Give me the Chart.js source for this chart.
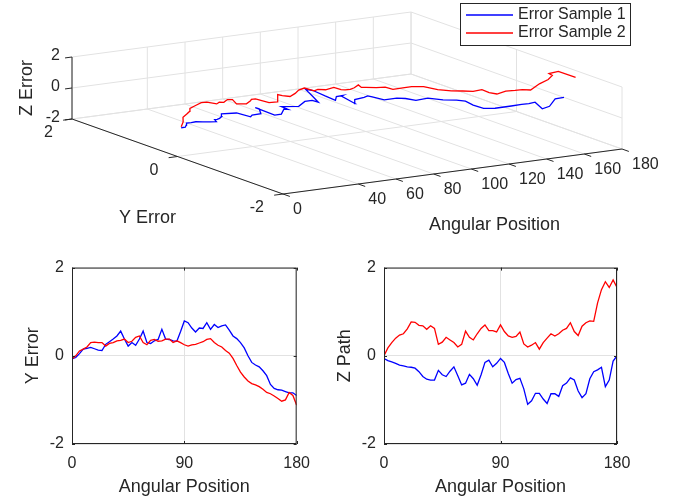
<!DOCTYPE html>
<html>
<head>
<meta charset="utf-8">
<script src="https://cdn.jsdelivr.net/npm/chart.js@4.4.1/dist/chart.umd.min.js"></script>
<style>
    html, body { margin: 0; padding: 0; background: #fff; }
    body { width: 679px; height: 501px; position: relative; overflow: hidden; }
    .box { position: absolute; }
    #top { left: 0; top: 0; width: 679px; height: 250px; }
    #left { left: 0; top: 250px; width: 320px; height: 251px; }
    #right { left: 312px; top: 250px; width: 367px; height: 251px; }
</style>
</head>
<body>
<div class="box" id="top"><canvas id="c3d"></canvas></div>
<div class="box" id="left"><canvas id="cY"></canvas></div>
<div class="box" id="right"><canvas id="cZ"></canvas></div>

<script>
// ===== Data =====
const seriesNames = ["Error Sample 1", "Error Sample 2"];
const seriesColors = ["#0000ff", "#ff0000"];

const angles = [0, 3, 6, 9, 12, 15, 18, 21, 24, 27, 30, 33, 36, 39, 42, 45, 48, 51, 54, 57,
    60, 63, 66, 69, 72, 75, 78, 81, 84, 87, 90, 93, 96, 99, 102, 105, 108, 111, 114, 117,
    120, 123, 126, 129, 132, 135, 138, 141, 144, 147, 150, 153, 156, 159, 162, 165, 168, 171, 174, 177, 180];

const yErr1 = [-0.07, -0.04, 0.05, 0.15, 0.17, 0.19, 0.16, 0.13, 0.12, 0.26, 0.32, 0.38, 0.45, 0.56, 0.38, 0.22, 0.30, 0.24, 0.38, 0.56,
    0.30, 0.28, 0.34, 0.37, 0.60, 0.38, 0.37, 0.34, 0.33, 0.55, 0.79, 0.75, 0.63, 0.54, 0.63, 0.62, 0.75, 0.60, 0.71, 0.64,
    0.68, 0.70, 0.58, 0.45, 0.39, 0.30, 0.18, 0.00, -0.15, -0.21, -0.25, -0.34, -0.45, -0.65, -0.74, -0.77, -0.78, -0.81, -0.84, -0.84, -0.90];

const yErr2 = [-0.07, 0.00, 0.11, 0.15, 0.20, 0.30, 0.31, 0.30, 0.30, 0.22, 0.28, 0.30, 0.34, 0.35, 0.38, 0.30, 0.33, 0.42, 0.45, 0.30,
    0.25, 0.35, 0.37, 0.33, 0.34, 0.38, 0.38, 0.30, 0.34, 0.30, 0.25, 0.22, 0.25, 0.26, 0.29, 0.32, 0.37, 0.39, 0.30, 0.24,
    0.20, 0.12, 0.06, -0.06, -0.22, -0.37, -0.48, -0.57, -0.63, -0.66, -0.70, -0.76, -0.83, -0.86, -0.91, -0.97, -1.03, -1.00, -0.83, -0.90, -1.12];

const zPath1 = [-0.06, -0.11, -0.14, -0.17, -0.21, -0.23, -0.25, -0.26, -0.28, -0.36, -0.47, -0.53, -0.55, -0.55, -0.33, -0.43, -0.47, -0.35, -0.25, -0.45,
    -0.66, -0.62, -0.42, -0.52, -0.67, -0.43, -0.15, -0.10, -0.25, -0.17, -0.06, -0.15, -0.40, -0.62, -0.54, -0.51, -0.75, -1.10, -1.02, -0.85,
    -0.85, -0.98, -1.08, -0.86, -0.86, -0.92, -0.68, -0.62, -0.50, -0.55, -0.80, -0.95, -0.86, -0.52, -0.36, -0.32, -0.26, -0.70, -0.55, -0.12, 0.00];

const zPath2 = [0.00, 0.18, 0.30, 0.40, 0.47, 0.50, 0.61, 0.77, 0.76, 0.69, 0.68, 0.60, 0.68, 0.62, 0.26, 0.31, 0.42, 0.36, 0.30, 0.20,
    0.26, 0.56, 0.42, 0.36, 0.50, 0.62, 0.70, 0.57, 0.57, 0.54, 0.70, 0.55, 0.45, 0.42, 0.44, 0.54, 0.27, 0.20, 0.24, 0.30,
    0.15, 0.30, 0.40, 0.50, 0.45, 0.50, 0.58, 0.62, 0.75, 0.55, 0.46, 0.67, 0.75, 0.79, 0.78, 1.20, 1.50, 1.68, 1.55, 1.72, 1.55];

// ticks
const angTicks3d = [0, 40, 60, 80, 100, 120, 140, 160, 180];
const yTicks3d = [-2, 0, 2];
const zTicks3d = [-2, 0, 2];
const angTicks2d = [0, 90, 180];
const valTicks2d = [-2, 0, 2];

const titles3d = { x: "Angular Position", y: "Y Error", z: "Z Error" };

// ===== Style =====
const FONT = '"Liberation Sans", Arial, sans-serif';
const TXT = "#262626";
const GRID = "#e2e2e2";
Chart.defaults.font.family = FONT;
Chart.defaults.color = TXT;
Chart.defaults.animation = false;

// ===== 3D view (orthographic) =====
// screen plane units of the top canvas; one unit per px
const view = {
    origin: [177.5, 125.5],     // angle 0, y 0, z 0
    ea: [339 / 180, -45 / 180], // per degree
    ey: [-52.75, -18.75],       // per unit Y error
    ez: [0, -15.5]              // per unit Z
};
const lim = { a: [0, 180], y: [-2, 2], z: [-2, 2] };

function project(a, y, z) {
    return {
        x: view.origin[0] + a * view.ea[0] + y * view.ey[0] + z * view.ez[0],
        y: view.origin[1] + a * view.ea[1] + y * view.ey[1] + z * view.ez[1]
    };
}

const box3d = {
    id: "box3d",
    beforeDatasetsDraw(chart) {
        const { ctx, scales: { x: sx, y: sy } } = chart;
        const P = (a, y, z) => {
            const p = project(a, y, z);
            return [sx.getPixelForValue(p.x), sy.getPixelForValue(p.y)];
        };
        const seg = (p, q) => { ctx.moveTo(p[0], p[1]); ctx.lineTo(q[0], q[1]); };
        const [a0, a1] = lim.a, [y0, y1] = lim.y, [z0, z1] = lim.z;

        ctx.save();
        // grid: back wall, floor, side wall
        ctx.strokeStyle = GRID;
        ctx.lineWidth = 1;
        ctx.beginPath();
        angTicks3d.forEach(a => { seg(P(a, y1, z0), P(a, y1, z1)); seg(P(a, y0, z0), P(a, y1, z0)); });
        zTicks3d.forEach(z => { seg(P(a0, y1, z), P(a1, y1, z)); seg(P(a1, y0, z), P(a1, y1, z)); });
        yTicks3d.forEach(y => { seg(P(a0, y, z0), P(a1, y, z0)); seg(P(a1, y, z0), P(a1, y, z1)); });
        ctx.stroke();

        // axes
        ctx.strokeStyle = TXT;
        ctx.beginPath();
        seg(P(a0, y1, z0), P(a0, y1, z1));
        seg(P(a0, y1, z0), P(a0, y0, z0));
        seg(P(a0, y0, z0), P(a1, y0, z0));
        angTicks3d.forEach(a => seg(P(a, y0, z0), P(a, y0 - 0.13, z0)));
        yTicks3d.forEach(y => seg(P(a0, y, z0), P(a0 - 4.7, y, z0)));
        zTicks3d.forEach(z => seg(P(a0, y1, z), P(a0 - 3.7, y1, z)));
        ctx.stroke();

        // tick labels
        ctx.fillStyle = TXT;
        ctx.font = "16px " + FONT;
        ctx.textBaseline = "middle";
        ctx.textAlign = "left";
        angTicks3d.forEach(a => { const p = P(a, y0, z0); ctx.fillText(String(a), p[0] + 10, p[1] + 16); });
        ctx.textAlign = "right";
        yTicks3d.forEach(y => { const p = P(a0, y, z0); ctx.fillText(String(y), p[0] - 19, p[1] + 14); });
        zTicks3d.forEach(z => { const p = P(a0, y1, z); ctx.fillText(String(z), p[0] - 12, p[1] - 1); });

        // axis titles
        ctx.font = "18px " + FONT;
        ctx.textAlign = "center";
        let m = P((a0 + a1) / 2, y0, z0);
        ctx.fillText(titles3d.x, m[0] + 42, m[1] + 54);
        m = P(a0, (y0 + y1) / 2, z0);
        ctx.fillText(titles3d.y, m[0] - 30, m[1] + 62);
        m = P(a0, y1, (z0 + z1) / 2);
        ctx.translate(m[0] - 45, m[1]);
        ctx.rotate(-Math.PI / 2);
        ctx.fillText(titles3d.z, 0, 0);
        ctx.restore();
    },
    afterDraw(chart) {
        // legend
        const { ctx } = chart;
        const bx = 460.5, by = 3.5, bw = 170, bh = 42;
        ctx.save();
        ctx.fillStyle = "#fff";
        ctx.fillRect(bx, by, bw, bh);
        ctx.strokeStyle = TXT;
        ctx.lineWidth = 1;
        ctx.strokeRect(bx, by, bw, bh);
        ctx.font = "16px " + FONT;
        ctx.textBaseline = "middle";
        ctx.textAlign = "left";
        chart.data.datasets.forEach((ds, i) => {
            const ly = 15 + i * 18;
            ctx.strokeStyle = ds.borderColor;
            ctx.lineWidth = 1.3;
            ctx.beginPath();
            ctx.moveTo(466, ly);
            ctx.lineTo(513, ly);
            ctx.stroke();
            ctx.fillStyle = TXT;
            ctx.fillText(ds.label, 518, ly);
        });
        ctx.restore();
    }
};

new Chart(document.getElementById("c3d"), {
    type: "scatter",
    data: {
        datasets: [
            { label: seriesNames[0], data: angles.map((a, i) => project(a, yErr1[i], zPath1[i])), order: 1 },
            { label: seriesNames[1], data: angles.map((a, i) => project(a, yErr2[i], zPath2[i])), order: 0 }
        ].map((d, i) => Object.assign(d, {
            showLine: true, borderColor: seriesColors[i], borderWidth: 1.3, pointRadius: 0, tension: 0
        }))
    },
    options: {
        responsive: true,
        maintainAspectRatio: false,
        layout: { padding: 0 },
        plugins: { legend: { display: false }, tooltip: { enabled: false } },
        scales: {
            x: { type: "linear", display: false, min: 0, max: 679 },
            y: { type: "linear", display: false, min: 0, max: 250, reverse: true }
        }
    },
    plugins: [box3d]
});

// ===== 2D plots =====
const frame = {
    id: "frame",
    afterDraw(chart) {
        const { ctx, chartArea: a, scales: { x, y } } = chart;
        ctx.save();
        ctx.strokeStyle = TXT;
        ctx.lineWidth = 1;
        ctx.strokeRect(a.left + 0.5, a.top + 0.5, a.right - a.left - 1, a.bottom - a.top - 1);
        ctx.beginPath();
        angTicks2d.forEach(v => {
            const px = Math.round(x.getPixelForValue(v)) + 0.5;
            ctx.moveTo(px, a.bottom); ctx.lineTo(px, a.bottom - 3);
            ctx.moveTo(px, a.top); ctx.lineTo(px, a.top + 3);
        });
        valTicks2d.forEach(v => {
            const py = Math.round(y.getPixelForValue(v)) + 0.5;
            ctx.moveTo(a.left, py); ctx.lineTo(a.left + 3, py);
            ctx.moveTo(a.right, py); ctx.lineTo(a.right - 3, py);
        });
        ctx.stroke();
        ctx.restore();
    }
};

function flatChart(id, s1, s2, yTitle, padRight) {
    return new Chart(document.getElementById(id), {
        type: "line",
        data: {
            datasets: [s1, s2].map((s, i) => ({
                label: seriesNames[i],
                data: angles.map((a, k) => ({ x: a, y: s[k] })),
                borderColor: seriesColors[i],
                borderWidth: 1.3,
                pointRadius: 0,
                tension: 0,
                order: 1 - i
            }))
        },
        options: {
            responsive: true,
            maintainAspectRatio: false,
            layout: { padding: { top: 15, right: padRight, left: 0, bottom: 0 } },
            plugins: { legend: { display: false }, tooltip: { enabled: false } },
            scales: {
                x: {
                    type: "linear", min: 0, max: 180,
                    afterBuildTicks: s => { s.ticks = angTicks2d.map(v => ({ value: v })); },
                    afterFit: s => { s.height = 57; },
                    grid: { color: GRID, drawTicks: false },
                    border: { display: false },
                    ticks: { padding: 10, maxRotation: 0, font: { size: 16 }, color: TXT },
                    title: { display: true, text: "Angular Position", font: { size: 18 }, color: TXT, padding: { top: 0, bottom: 3 } }
                },
                y: {
                    type: "linear", min: -2, max: 2,
                    afterBuildTicks: s => { s.ticks = valTicks2d.map(v => ({ value: v })); },
                    afterFit: s => { s.width = 72; },
                    grid: { color: GRID, drawTicks: false },
                    border: { display: false },
                    ticks: { padding: 8, font: { size: 16 }, color: TXT },
                    title: { display: true, text: yTitle, font: { size: 18 }, color: TXT, padding: { top: 22, bottom: 0 } }
                }
            }
        },
        plugins: [frame]
    });
}

flatChart("cY", yErr1, yErr2, "Y Error", 15);
flatChart("cZ", zPath1, zPath2, "Z Path", 62);
</script>
</body>
</html>
